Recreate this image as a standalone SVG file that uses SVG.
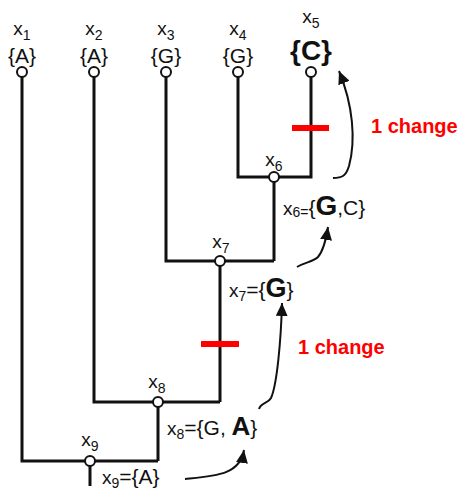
<svg xmlns="http://www.w3.org/2000/svg" width="460" height="492" viewBox="0 0 460 492">
<defs>
<style>
.t{font-family:"Liberation Sans",Arial,sans-serif;fill:#111;}
.lbl{font-size:19px;}
.st{font-size:21px;}
.sub{font-size:14px;}
.b{font-weight:bold;}
.red{font-family:"Liberation Sans",Arial,sans-serif;font-size:20px;font-weight:bold;fill:#ff0000;}
.edge{stroke:#111;stroke-width:3;fill:none;}
.node{fill:#fff;stroke:#111;stroke-width:2;}
.arr{stroke:#111;stroke-width:2;fill:none;}
.bar{stroke:#ff0000;stroke-width:6;}
</style>
<marker id="ah" markerWidth="14" markerHeight="12" refX="13" refY="6" orient="auto" markerUnits="userSpaceOnUse"><path d="M0,0 L13,6 L0,12 z" fill="#111"/></marker>
</defs>
<g id="connectors">
<path class="edge" d="M22,77 V461 H158"/>
<path class="edge" d="M94,77 V402 H220"/>
<path class="edge" d="M166,77 V261 H274"/>
<path class="edge" d="M238,77 V177 H311 V77"/>
<path class="edge" d="M274,177 V261"/>
<path class="edge" d="M220,261 V402"/>
<path class="edge" d="M158,402 V461"/>
<path class="edge" d="M90,461 V486"/>
<line class="bar" x1="292" y1="128" x2="329" y2="128"/>
<line class="bar" x1="201" y1="344" x2="239" y2="344"/>
<path class="arr" marker-end="url(#ah)" d="M333,178 C342,178 346,176 349,166 C356,140 353,105 339,71"/>
<path class="arr" marker-end="url(#ah)" d="M297,267 C305,262 313,262 318,257 C323,251 326,240 328,227"/>
<path class="arr" marker-end="url(#ah)" d="M259,409 C261,402 268,404 271,398 C277,385 281,340 282,303"/>
<path class="arr" marker-end="url(#ah)" d="M185,479 C215,476 240,475 244,450"/>
</g>
<g id="x1">
<circle class="node" cx="22" cy="72" r="5"/>
<text class="t lbl" x="22" y="35" text-anchor="middle">x<tspan class="sub" dy="5">1</tspan></text>
<text class="t st" x="22" y="63" text-anchor="middle">{A}</text>
</g>
<g id="x2">
<circle class="node" cx="94" cy="72" r="5"/>
<text class="t lbl" x="94" y="35" text-anchor="middle">x<tspan class="sub" dy="5">2</tspan></text>
<text class="t st" x="94" y="63" text-anchor="middle">{A}</text>
</g>
<g id="x3">
<circle class="node" cx="166" cy="72" r="5"/>
<text class="t lbl" x="166" y="35" text-anchor="middle">x<tspan class="sub" dy="5">3</tspan></text>
<text class="t st" x="166" y="63" text-anchor="middle">{G}</text>
</g>
<g id="x4">
<circle class="node" cx="238" cy="72" r="5"/>
<text class="t lbl" x="238" y="35" text-anchor="middle">x<tspan class="sub" dy="5">4</tspan></text>
<text class="t st" x="238" y="63" text-anchor="middle">{G}</text>
</g>
<g id="x5">
<circle class="node" cx="311" cy="72" r="5"/>
<text class="t lbl" x="311" y="23" text-anchor="middle">x<tspan class="sub" dy="5">5</tspan></text>
<text class="t b" x="311" y="60" text-anchor="middle" font-size="28">{C}</text>
</g>
<g id="x6">
<circle class="node" cx="274" cy="177" r="5"/>
<text class="t lbl" x="274" y="166" text-anchor="middle">x<tspan class="sub" dy="5">6</tspan></text>
<text class="t lbl" x="283" y="215">x<tspan class="sub" dy="2">6=</tspan><tspan class="st" dy="-2">{</tspan><tspan class="b" font-size="28">G</tspan><tspan class="st">,C}</tspan></text>
</g>
<g id="x7">
<circle class="node" cx="220" cy="261" r="5"/>
<text class="t lbl" x="221" y="248" text-anchor="middle">x<tspan class="sub" dy="5">7</tspan></text>
<text class="t lbl" x="229" y="297">x<tspan class="sub" dy="4">7</tspan><tspan class="st" dy="-4">={</tspan><tspan class="b" font-size="27">G</tspan><tspan class="st">}</tspan></text>
</g>
<g id="x8">
<circle class="node" cx="158" cy="402" r="5"/>
<text class="t lbl" x="157" y="388" text-anchor="middle">x<tspan class="sub" dy="5">8</tspan></text>
<text class="t lbl" x="167" y="435">x<tspan class="sub" dy="4">8</tspan><tspan class="st" dy="-4">={G, </tspan><tspan class="b" font-size="26">A</tspan><tspan class="st">}</tspan></text>
</g>
<g id="x9">
<circle class="node" cx="90" cy="461" r="5"/>
<text class="t lbl" x="90" y="446" text-anchor="middle">x<tspan class="sub" dy="5">9</tspan></text>
<text class="t lbl" x="102" y="484">x<tspan class="sub" dy="4">9</tspan><tspan class="st" dy="-4">={A}</tspan></text>
</g>
<g id="changes">
<text class="red" x="371" y="133">1 change</text>
<text class="red" x="298" y="354">1 change</text>
</g>
</svg>
